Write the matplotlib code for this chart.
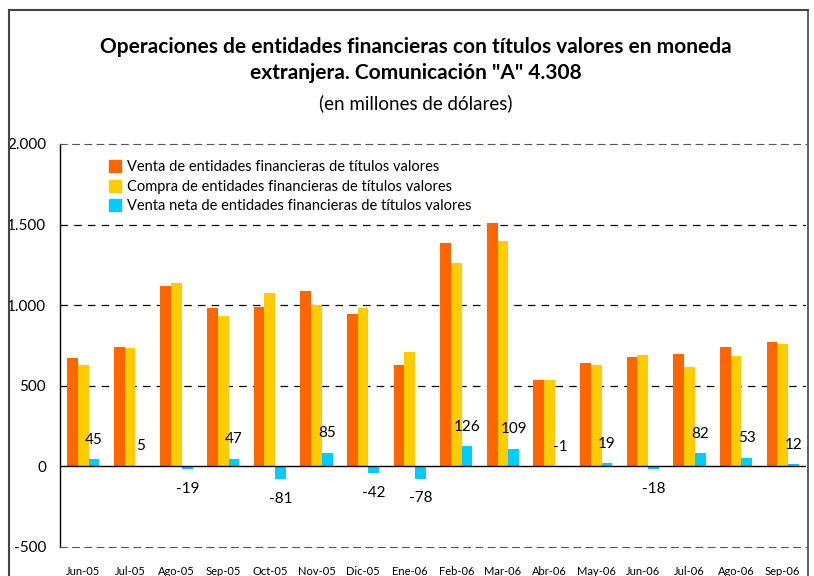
import matplotlib
matplotlib.use("Agg")
import matplotlib.pyplot as plt
from matplotlib.lines import Line2D
from matplotlib.patches import Patch
import numpy as np

plt.rcParams['font.family'] = ['Lato', 'DejaVu Sans']

# data (millones de dólares)
meses = ['Jun-05', 'Jul-05', 'Ago-05', 'Sep-05', 'Oct-05', 'Nov-05', 'Dic-05', 'Ene-06',
         'Feb-06', 'Mar-06', 'Abr-06', 'May-06', 'Jun-06', 'Jul-06', 'Ago-06', 'Sep-06']
venta = [671, 739, 1118, 981, 988, 1087, 943, 628, 1385, 1508, 534, 641, 676, 697, 739, 770]
compra = [627, 733, 1137, 932, 1075, 1000, 983, 708, 1261, 1398, 534, 626, 690, 615, 685, 758]
neta = [45, 5, -19, 47, -81, 85, -42, -78, 126, 109, -1, 19, -18, 82, 53, 12]

c_venta = '#FF6600'
c_compra = '#FFCC00'
c_neta = '#00CCFF'

fig = plt.figure(figsize=(8.14, 5.76), dpi=100)
ax = fig.add_axes([60/814, 29/576, 746/814, 403/576])

x = np.arange(len(meses))
w = 0.23
ax.bar(x - w, venta, w, color=c_venta)
ax.bar(x, compra, w, color=c_compra)
ax.bar(x + w, neta, w, color=c_neta)

# labels above the net bar, below it when clearly negative
for xi, v in zip(x, neta):
    off = 14 if v > -5 else -14
    ax.annotate(str(v), (xi + w, v), xytext=(0, off), textcoords='offset points',
                ha='center', va='center', fontsize=11)

ax.set_xlim(-0.5, len(meses) - 0.5)
ax.set_ylim(-500, 2000)
ax.set_yticks([-500, 0, 500, 1000, 1500, 2000])
ax.set_yticklabels(['-500', '0', '500', '1.000', '1.500', '2.000'], fontsize=11)
ax.set_xticks(x)
ax.set_xticklabels(meses, fontsize=8)
ax.tick_params(axis='both', length=0)
ax.tick_params(axis='y', pad=10)
ax.tick_params(axis='x', pad=14)

for val in [500, 1000, 1500]:
    ax.axhline(val, color='black', lw=0.9, ls=(0, (6, 5)), zorder=0)
ax.axhline(0, color='black', lw=1.0)

ax.spines['right'].set_visible(False)
ax.spines['top'].set_linestyle((0, (6, 5)))
ax.spines['top'].set_color('#555555')
ax.spines['bottom'].set_linestyle((0, (6, 5)))
ax.spines['bottom'].set_color('#555555')
ax.spines['left'].set_linewidth(1.0)

handles = [Patch(color=c_venta), Patch(color=c_compra), Patch(color=c_neta)]
labels = ['Venta de entidades financieras de títulos valores',
          'Compra de entidades financieras de títulos valores',
          'Venta neta de entidades financieras de títulos valores']
ax.legend(handles, labels, loc='upper left', bbox_to_anchor=(0.058, 0.975), frameon=False,
          borderaxespad=0, handlelength=0.8, handleheight=0.9, handletextpad=0.4,
          labelspacing=0.38, fontsize=10.5)

fig.text(0.511, 0.918, 'Operaciones de entidades financieras con títulos valores en moneda',
         ha='center', va='center', fontsize=15, fontweight='bold')
fig.text(0.511, 0.873, 'extranjera. Comunicación "A" 4.308',
         ha='center', va='center', fontsize=15, fontweight='bold')
fig.text(0.511, 0.821, '(en millones de dólares)', ha='center', va='center', fontsize=13.5)

# outer frame
fx0, fx1, fy1 = 9/814, 808/814, 1 - 10/576
fig.add_artist(Line2D([fx0, fx0], [0, fy1], color='#444444', lw=1.5))
fig.add_artist(Line2D([fx0, fx1], [fy1, fy1], color='#444444', lw=1.5))
fig.add_artist(Line2D([fx1, fx1], [0, fy1], color='#444444', lw=1.2))

fig.savefig('out.png', dpi=100)
